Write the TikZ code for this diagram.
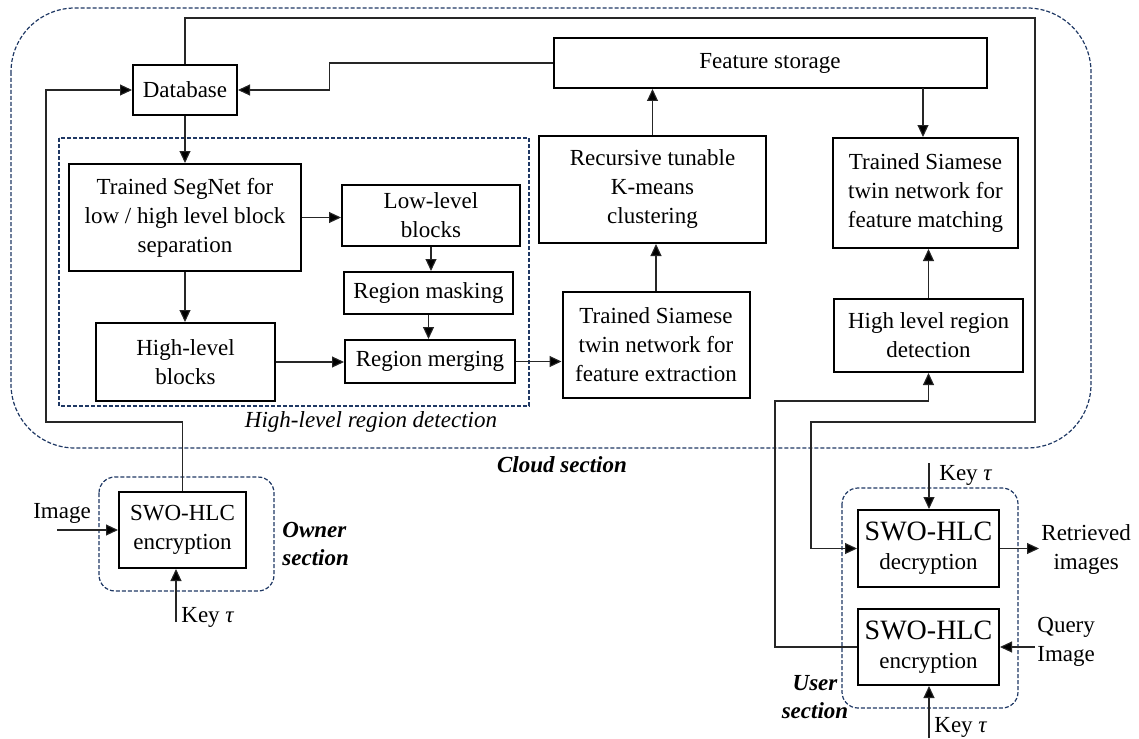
\documentclass[tikz,border=0pt]{standalone}
\usepackage{fontspec}
\setmainfont{Liberation Serif}
\usetikzlibrary{arrows.meta,calc}
\definecolor{navy}{RGB}{31,56,100}
\begin{document}
\begin{tikzpicture}[x=0.5pt,y=-0.5pt,
  every node/.style={font=\fontsize{11.5}{14.5}\selectfont},
  box/.style={draw=black,line width=1pt,align=center,inner sep=0pt,fill=white},
  conn/.style={draw=black!85,line width=0.55pt},
  arr/.style={conn,-{Triangle[length=6pt,width=5.5pt,fill=black]}},
  dashbox/.style={draw=navy,line width=0.6pt,dash pattern=on 2pt off 1pt},
  lbl/.style={inner sep=1pt,align=left},
  sect/.style={font=\fontsize{11.5}{14}\selectfont\bfseries\itshape,inner sep=0pt}]
\useasboundingbox (0,0) rectangle (1139,738);

% containers
\draw[dashbox,rounded corners=32pt] (11,8) rectangle (1091,448);
\draw[dashbox] (59,138) rectangle (529,406);
\draw[dashbox,rounded corners=8pt] (99,477) rectangle (274,591);
\draw[dashbox,rounded corners=8pt] (842,488) rectangle (1018,708);

% nodes
\node[box,minimum width=52pt,minimum height=25pt] (db) at (185,90) {Database};
\node[box,minimum width=116pt,minimum height=53.5pt] (segnet) at (185,217.5) {Trained SegNet for\\low / high level block\\separation};
\node[box,minimum width=89pt,minimum height=30.5pt] (low) at (431,215.5) {Low-level\\blocks};
\node[box,minimum width=84.5pt,minimum height=21pt] (mask) at (428.5,293) {Region masking};
\node[box,minimum width=85pt,minimum height=21.5pt] (merge) at (430,361.5) {Region merging};
\node[box,minimum width=89.5pt,minimum height=39pt] (high) at (185.5,362) {High-level\\blocks};
\node[box,minimum width=93.5pt,minimum height=53pt] (sext) at (656,345) {Trained Siamese\\twin network for\\feature extraction};
\node[box,minimum width=113.5pt,minimum height=53.5pt] (kmeans) at (652.5,189.5) {Recursive tunable\\K-means\\clustering};
\node[box,minimum width=216.5pt,minimum height=25pt] (fstore) at (770,63) {Feature storage};
\node[box,minimum width=92.5pt,minimum height=55pt] (smatch) at (925.5,193) {Trained Siamese\\twin network for\\feature matching};
\node[box,minimum width=94.5pt,minimum height=36.5pt] (hlr) at (928.5,335.5) {High level region\\detection};
\node[box,minimum width=63.5pt,minimum height=38pt] (oenc) at (182.5,530) {SWO-HLC\\encryption};
\node[box,minimum width=70.5pt,minimum height=38.5pt] (udec) at (928.5,548.5) {{\fontsize{14}{15}\selectfont SWO-HLC}\\decryption};
\node[box,minimum width=70.5pt,minimum height=38pt] (uenc) at (928.5,647) {{\fontsize{14}{15}\selectfont SWO-HLC}\\encryption};

% labels
\node[inner sep=0pt,font=\fontsize{11.5}{14}\selectfont\itshape] (hlrd) at (371,422) {High-level region detection};
\node[sect] (cloud) at (562,465) {Cloud section};
\node[sect,anchor=west,align=left] (owner) at (282,544) {Owner\\section};
\node[sect,align=center] (user) at (815,697) {User\\section};
\node[lbl] (img) at (62,513) {Image};
\node[lbl,anchor=west] (okey) at (179,617) {Key \textit{τ}};
\node[lbl,anchor=west] (ukey1) at (937,475) {Key \textit{τ}};
\node[lbl,anchor=west] (ukey2) at (932,727) {Key \textit{τ}};
\node[lbl,anchor=west,align=center] (ret) at (1039,549) {Retrieved\\images};
\node[lbl,anchor=west] (qry) at (1035,642) {Query\\Image};

% coordinates
\coordinate (imgin) at (57,530);
\coordinate (ok) at (176,622);
\coordinate (uk1) at (929,463);
\coordinate (uk2) at (929,738);
\coordinate (oturn) at (46,422);
\coordinate (r1) at (1035,18);
\coordinate (r2) at (1035,422);
\coordinate (r3) at (811,422);
\coordinate (q1) at (775,401);
\coordinate (fs) at (923,88);

% connectors
\draw[arr] (db.south) -- (segnet.north);
\draw[arr] (segnet.east) -- (segnet.east -| low.west);
\draw[arr] (segnet.south) -- (segnet.south |- high.north);
\draw[arr] (low.south) -- (low.south |- mask.north);
\draw[arr] (mask.south) -- (mask.south |- merge.north);
\draw[arr] (high.east) -- (high.east -| merge.west);
\draw[arr] (merge.east) -- (merge.east -| sext.west);
\draw[arr] (sext.north) -- (sext.north |- kmeans.south);
\draw[arr] (kmeans.north) -- (kmeans.north |- fstore.south);
\draw[arr] (fstore.west) -- ++(-223,0) |- (db.east);
\draw[arr] (fs) -- (fs |- smatch.north);
\draw[arr] (hlr.north) -- (hlr.north |- smatch.south);
\draw[arr] (oenc.north) |- (oturn) |- (db.west);
\draw[arr] (db.north) |- (r1) -- (r2) -- (r3) |- (udec.west);
\draw[arr] (uenc.west) -| (q1) -| (hlr.south);
\draw[arr] (imgin) -- (imgin -| oenc.west);
\draw[arr] (ok) -- (ok |- oenc.south);
\draw[arr] (uk1) -- (uk1 |- udec.north);
\draw[arr] (uk2) -- (uk2 |- uenc.south);
\draw[arr] (udec.east) -- (udec.east -| ret.west);
\draw[arr] (qry.west |- uenc.east) -- (uenc.east);
\end{tikzpicture}
\end{document}
